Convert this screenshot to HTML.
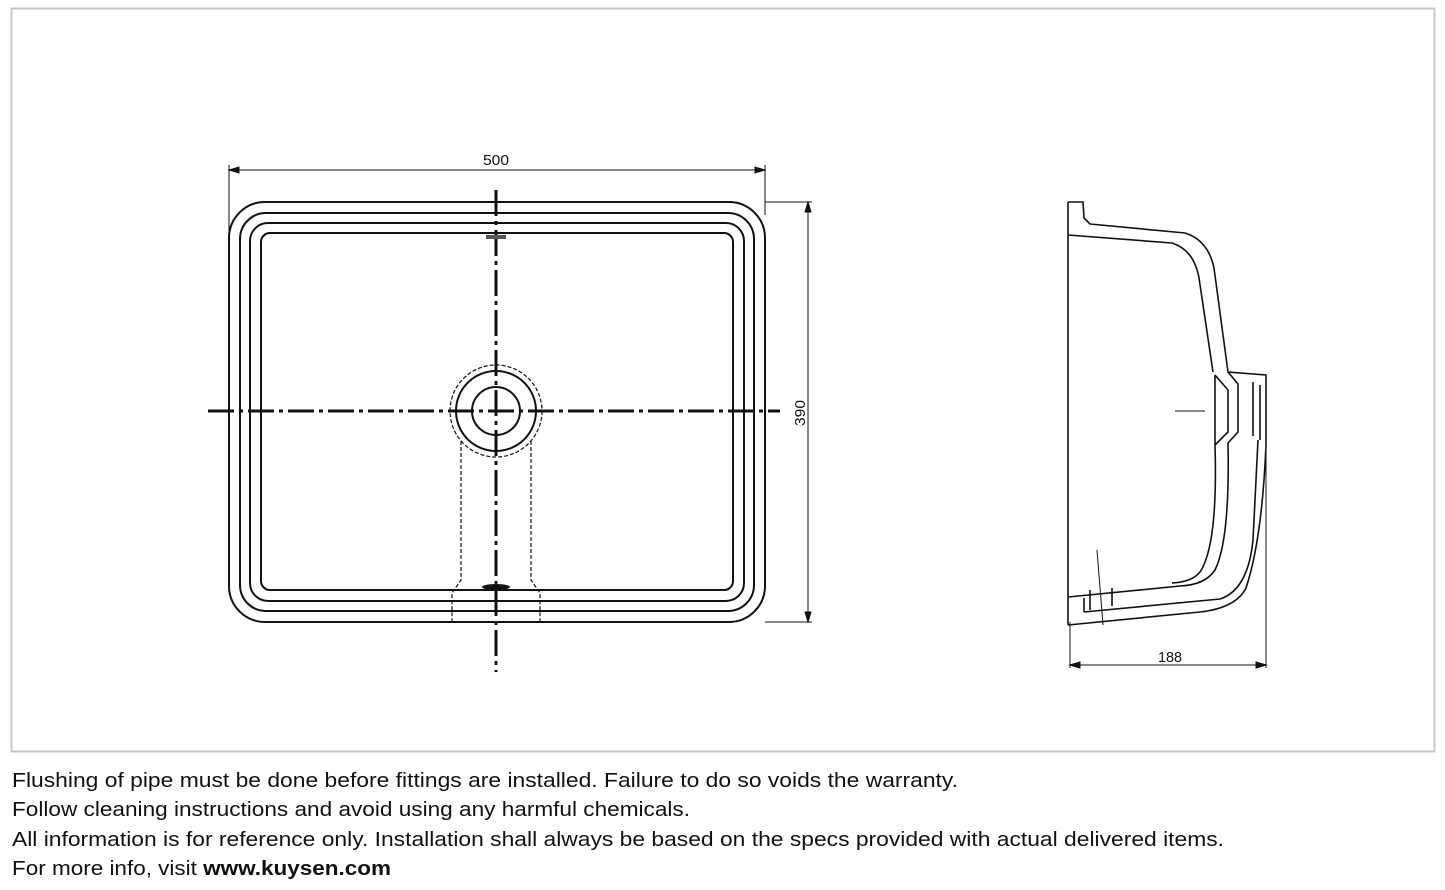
<!DOCTYPE html>
<html><head><style>body{margin:0;background:#fff}svg{display:block}</style></head><body>
<svg width="1445" height="890" xmlns="http://www.w3.org/2000/svg">
<rect x="11.5" y="8.5" width="1423" height="743" fill="#fff" stroke="#c8c8c8" stroke-width="2"/>
<g fill="none" stroke="#111" stroke-width="2">
<rect x="229" y="202" width="536" height="420" rx="36"/>
<rect x="240" y="213" width="514" height="398" rx="26"/>
<rect x="250" y="223" width="494" height="378" rx="18"/>
<rect x="261" y="233" width="472" height="357" rx="9"/>
<circle cx="496" cy="411" r="40"/>
<circle cx="496" cy="411" r="24"/>
<circle cx="496" cy="411" r="46" stroke-dasharray="4,2" stroke-width="1.2"/>
<path d="M461,441 L461,580 L452,593 L452,622 M531,441 L531,580 L540,593 L540,622" stroke-dasharray="4,2" stroke-width="1.2"/>
<path d="M208,411 H780 M496,190 V672" stroke-width="3" stroke-dasharray="26,5,4,5"/>
<rect x="486" y="235" width="20" height="4" fill="#555" stroke="none"/>
<ellipse cx="496" cy="587" rx="14" ry="3" fill="#111" stroke="none"/>
</g>
<g stroke="#111" stroke-width="1" fill="none">
<path d="M229,165 V400 M765,165 V215 M229,170 H765 M765,202 H812 M765,622 H812 M808,202 V622"/>
<path d="M229,170 l10,-3 v6z M765,170 l-10,-3 v6z M808,202 l-3,10 h6z M808,622 l-3,-10 h6z" fill="#111"/>
<path d="M1266,440 V668 M1070,622 V668 M1070,665 H1266 M1070,665 l10,-3 v6z M1266,665 l-10,-3 v6z" fill="none"/>
<path d="M1070,665 l10,-3 v6z M1266,665 l-10,-3 v6z" fill="#111"/>
</g>
<g fill="none" stroke="#111" stroke-width="1.6">
<path d="M1068,202 V625"/>
<path d="M1068,202 L1083,202 L1084,218 L1090,224 L1185,233 Q1208,240 1214,268 L1228,372 L1266,375 L1266,445 Q1262,540 1246,588 Q1236,608 1200,612 L1068,625"/>
<path d="M1068,235 L1172,243 Q1194,250 1199,278 L1213,372"/>
<path d="M1228,372 L1238,384 L1238,432 L1228,443 Q1230,540 1215,570 Q1205,585 1180,586 L1068,597"/>
<path d="M1215,375 L1228,390 L1228,432 L1215,445 Q1218,545 1200,572 Q1192,582 1172,583"/>
<path d="M1084,612 L1220,599 Q1248,590 1253,540 L1258,440"/>
<path d="M1215,375 V445 M1253,382 V436 M1260,385 V440 M1084,598 V612 M1090,590 V610 M1112,588 V606"/>
<path d="M1175,411 H1205 M1097,550 L1103,625" stroke-width="1"/>
</g>
<g font-family="Liberation Sans Narrow, Liberation Sans, sans-serif" font-size="15" fill="#111">
<text x="483" y="165" textLength="26" lengthAdjust="spacingAndGlyphs">500</text>
<text x="1158" y="662" textLength="24" lengthAdjust="spacingAndGlyphs">188</text>
<text transform="translate(805,426) rotate(-90)" textLength="26" lengthAdjust="spacingAndGlyphs">390</text>
</g>
<g font-family="Liberation Sans, sans-serif" font-size="20" fill="#111">
<text x="12" y="787" textLength="946" lengthAdjust="spacingAndGlyphs">Flushing of pipe must be done before fittings are installed. Failure to do so voids the warranty.</text>
<text x="12" y="816" textLength="678" lengthAdjust="spacingAndGlyphs">Follow cleaning instructions and avoid using any harmful chemicals.</text>
<text x="12" y="846" textLength="1212" lengthAdjust="spacingAndGlyphs">All information is for reference only. Installation shall always be based on the specs provided with actual delivered items.</text>
<text x="12" y="875" textLength="379" lengthAdjust="spacingAndGlyphs">For more info, visit <tspan font-weight="bold">www.kuysen.com</tspan></text>
</g>
</svg>
</body></html>
